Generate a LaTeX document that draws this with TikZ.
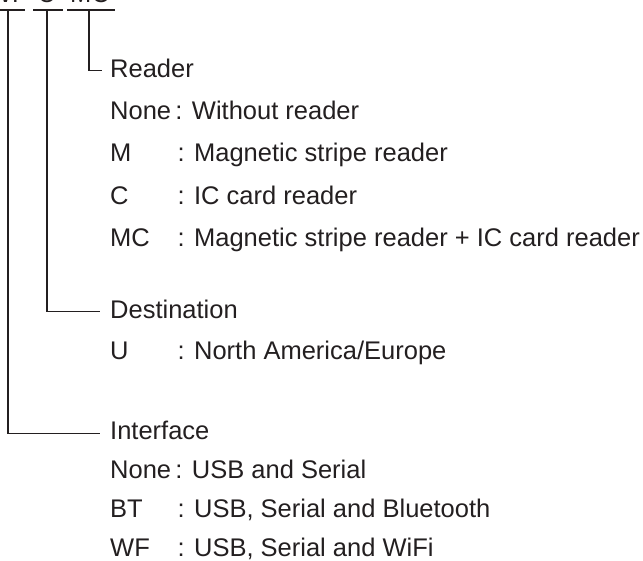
\documentclass[tikz,border=0pt]{standalone}
\usepackage{fontspec}
\setmainfont{Liberation Sans}
\usepackage{xcolor}
\usepackage{tikz}
\usetikzlibrary{positioning}

\definecolor{ink}{HTML}{231F20}

\begin{document}
\begin{tikzpicture}[x=1pt, y=-1pt]

\tikzstyle{every node}=[font=\fontsize{25.5pt}{30pt}\selectfont, text=ink, inner sep=0, text height=18.5pt, text depth=5pt]
\tikzstyle{key}=[text width=67pt, align=left]
\tikzstyle{conn}=[draw=ink, line width=1.1pt]

\useasboundingbox (0,0) rectangle (643,560);
\clip (0,0) rectangle (643,560);

% model code, cut off at the top %
\node[anchor=base, text depth=0pt] (cif) at (8,2.5) {WF};
\node[anchor=base, text depth=0pt] (cde) at (47,2.5) {U};
\node[anchor=base, text depth=0pt] (crd) at (90,2.5) {MC};

\coordinate (uif) at (8,10);
\coordinate (ude) at (47,10);
\coordinate (urd) at (89,10);

% nodes %
\node[anchor=base west] (reader) at (110,77) {Reader};
\node[below=18.5pt of reader.south west, anchor=north west] (nr) {None\,: Without reader};
\node[below=18.5pt of nr.south west, anchor=north west, key] (km) {M};
\node[right=0pt of km] (dm) {: Magnetic stripe reader};
\node[below=18.5pt of km.south west, anchor=north west, key] (kc) {C};
\node[right=0pt of kc] (dc) {: IC card reader};
\node[below=18.5pt of kc.south west, anchor=north west, key] (kmc) {MC};
\node[right=0pt of kmc] (dmc) {: Magnetic stripe reader + IC card reader};

\node[below=47.5pt of kmc.south west, anchor=north west] (dest) {Destination};
\node[below=17.5pt of dest.south west, anchor=north west, key] (ku) {U};
\node[right=0pt of ku] (du) {: North America/Europe};

\node[below=56.5pt of ku.south west, anchor=north west] (iface) {Interface};
\node[below=15pt of iface.south west, anchor=north west] (ni) {None\,: USB and Serial};
\node[below=15pt of ni.south west, anchor=north west, key] (kbt) {BT};
\node[right=0pt of kbt] (dbt) {: USB, Serial and Bluetooth};
\node[below=15pt of kbt.south west, anchor=north west, key] (kwf) {WF};
\node[right=0pt of kwf] (dwf) {: USB, Serial and WiFi};

% edges %
\draw[conn] ([xshift=-20pt]uif) -- ([xshift=17pt]uif);
\draw[conn] ([xshift=-14pt]ude) -- ([xshift=16pt]ude);
\draw[conn] ([xshift=-22pt]urd) -- ([xshift=26pt]urd);

\draw[conn] (uif) |- ([xshift=-10pt]iface.west);
\draw[conn] (ude) |- ([xshift=-10pt]dest.west);
\draw[conn] (urd) |- ([xshift=-8pt]reader.west);

\end{tikzpicture}
\end{document}
